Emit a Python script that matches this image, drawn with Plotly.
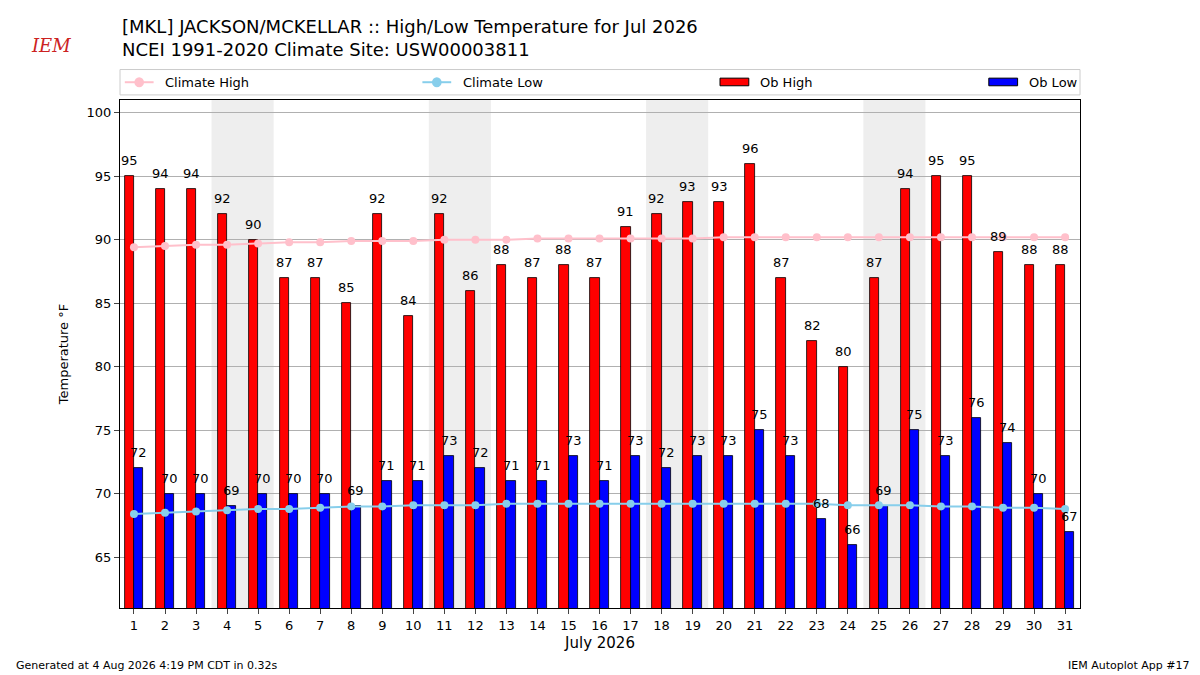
import plotly.graph_objs as go

days = list(range(1, 32))
ob_high = [95, 94, 94, 92, 90, 87, 87, 85, 92, 84, 92, 86, 88, 87, 88, 87, 91, 92, 93, 93, 96, 87, 82, 80, 87, 94, 95, 95, 89, 88, 88]
ob_low = [72, 70, 70, 69, 70, 70, 70, 69, 71, 71, 73, 72, 71, 71, 73, 71, 73, 72, 73, 73, 75, 73, 68, 66, 69, 75, 73, 76, 74, 70, 67]
clim_high = [89.4, 89.5, 89.6, 89.6, 89.7, 89.8, 89.8, 89.9, 89.9, 89.9, 90.0, 90.0, 90.0, 90.1, 90.1, 90.1, 90.1, 90.1, 90.1, 90.2, 90.2, 90.2, 90.2, 90.2, 90.2, 90.2, 90.2, 90.2, 90.2, 90.2, 90.2]
clim_low = [68.4, 68.5, 68.6, 68.7, 68.8, 68.8, 68.9, 69.0, 69.0, 69.1, 69.1, 69.1, 69.2, 69.2, 69.2, 69.2, 69.2, 69.2, 69.2, 69.2, 69.2, 69.2, 69.2, 69.1, 69.1, 69.1, 69.0, 69.0, 68.9, 68.9, 68.8]

fig = go.Figure()

#weekend shading
for d in [4, 11, 18, 25]:
    fig.add_vrect(x0=d-0.5, x1=d+1.5, fillcolor='#eeeeee', line_width=0, layer='below')

fig.add_trace(go.Scatter(x=days, y=clim_high, mode='lines+markers', name='Climate High', line=dict(color='pink', width=2), marker=dict(size=8, color='pink')))
fig.add_trace(go.Scatter(x=days, y=clim_low, mode='lines+markers', name='Climate Low', line=dict(color='skyblue', width=2), marker=dict(size=8, color='skyblue')))
fig.add_trace(go.Bar(x=[d-0.15 for d in days], y=ob_high, width=0.3, name='Ob High', marker=dict(color='red', line=dict(color='black', width=0.8))))
fig.add_trace(go.Bar(x=[d+0.15 for d in days], y=ob_low, width=0.3, name='Ob Low', marker=dict(color='blue', line=dict(color='black', width=0.8))))

#value labels
for d, h, l in zip(days, ob_high, ob_low):
    fig.add_annotation(x=d-0.15, y=h, text=str(h), showarrow=False, yanchor='bottom', yshift=6, font=dict(size=13))
    fig.add_annotation(x=d+0.15, y=l, text=str(l), showarrow=False, yanchor='bottom', yshift=6, font=dict(size=13))

fig.update_layout(
    width=1200, height=675, plot_bgcolor='white', paper_bgcolor='white',
    font=dict(family='DejaVu Sans', size=13, color='black'),
    margin=dict(l=112, r=128, t=92, b=75),
    barmode='overlay', bargap=0,
    showlegend=False,
)
fig.update_xaxes(range=[0.55, 31.48], tickvals=days, ticks='outside', showgrid=False, showline=True, linecolor='black', mirror=True,
                 title=dict(text='July 2026', font=dict(size=15), standoff=5), tickfont=dict(size=13))
fig.update_yaxes(range=[61, 101], tickvals=[65, 70, 75, 80, 85, 90, 95, 100], ticks='outside', showgrid=True, gridcolor='#b0b0b0',
                 showline=True, linecolor='black', mirror=True, title=dict(text='Temperature °F', font=dict(size=13)), zeroline=False)

fig.add_annotation(x=0, y=1.0, xref='paper', yref='paper', xanchor='left', yanchor='bottom', yshift=38, showarrow=False, align='left',
                   text='[MKL] JACKSON/MCKELLAR :: High/Low Temperature for Jul 2026<br>NCEI 1991-2020 Climate Site: USW00003811', font=dict(size=18))
fig.add_annotation(x=-0.095, y=1.0, xref='paper', yref='paper', xanchor='left', yanchor='bottom', yshift=42, showarrow=False,
                   text='<i>IEM</i>', font=dict(family='DejaVu Serif', size=18, color='#cc2222'))
fig.add_annotation(x=0, y=0, xref='paper', yref='paper', xanchor='left', yanchor='bottom', showarrow=False,
                   text='Generated at 4 Aug 2026 4:19 PM CDT in 0.32s', font=dict(size=11), xshift=-106, yshift=-66)
fig.add_annotation(x=1.0, y=0, xref='paper', yref='paper', xanchor='right', yanchor='bottom', showarrow=False,
                   text='IEM Autoplot App #17', font=dict(size=11), xshift=112, yshift=-66)

#manual legend box
fig.add_shape(type='rect', xref='paper', yref='paper', x0=0, x1=1, y0=1.01, y1=1.06, line=dict(color='#cccccc', width=1), fillcolor='white')
legend_items = [(0.0, 'Climate High', 'pink', 'line'), (0.31, 'Climate Low', 'skyblue', 'line'), (0.62, 'Ob High', 'red', 'bar'), (0.90, 'Ob Low', 'blue', 'bar')]
for xp, label, col, kind in legend_items:
    if kind == 'line':
        fig.add_shape(type='line', xref='paper', yref='paper', x0=xp+0.005, x1=xp+0.035, y0=1.035, y1=1.035, line=dict(color=col, width=2))
        fig.add_shape(type='circle', xref='paper', yref='paper', x0=xp+0.016, x1=xp+0.024, y0=1.027, y1=1.043, line=dict(color=col), fillcolor=col)
    else:
        fig.add_shape(type='rect', xref='paper', yref='paper', x0=xp+0.005, x1=xp+0.035, y0=1.028, y1=1.043, line=dict(color='black', width=1), fillcolor=col)
    fig.add_annotation(x=xp+0.045, y=1.035, xref='paper', yref='paper', xanchor='left', yanchor='middle', showarrow=False, text=label, font=dict(size=13))

fig.write_html("out.html")
